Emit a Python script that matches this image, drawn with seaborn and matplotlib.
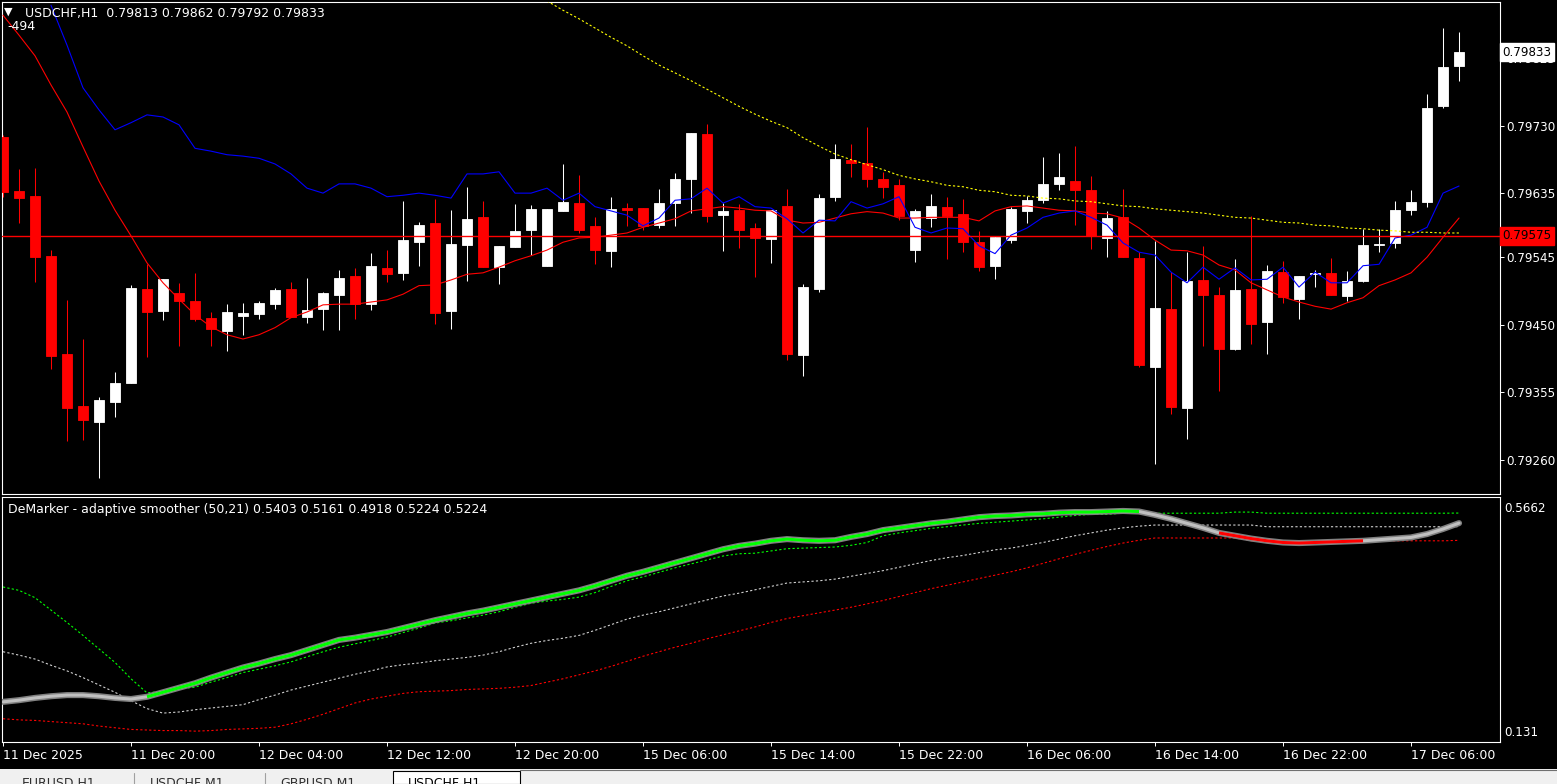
import numpy as np
import seaborn as sb
import matplotlib
matplotlib.use("Agg")
import matplotlib.pyplot as plt
import matplotlib.transforms as mtransforms
from matplotlib.patches import Rectangle
from matplotlib.lines import Line2D

# Podaci sa grafika (USDCHF, H1)

opens = [
    0.79714, 0.79638, 0.79631, 0.79547, 0.79409, 0.79336, 0.79313, 0.79342, 0.79368, 0.79500,
    0.79469, 0.79495, 0.79483, 0.79460, 0.79441, 0.79462, 0.79465, 0.79479, 0.79500, 0.79461,
    0.79472, 0.79492, 0.79519, 0.79479, 0.79530, 0.79523, 0.79566, 0.79593, 0.79469, 0.79562,
    0.79601, 0.79531, 0.79559, 0.79583, 0.79533, 0.79610, 0.79621, 0.79589, 0.79554, 0.79614,
    0.79614, 0.79590, 0.79621, 0.79655, 0.79718, 0.79604, 0.79611, 0.79586, 0.79571, 0.79617,
    0.79408, 0.79500, 0.79630, 0.79682, 0.79677, 0.79655, 0.79646, 0.79555, 0.79600, 0.79616,
    0.79606, 0.79566, 0.79533, 0.79569, 0.79610, 0.79625, 0.79648, 0.79652, 0.79639, 0.79572,
    0.79601, 0.79544, 0.79391, 0.79472, 0.79333, 0.79513, 0.79492, 0.79416, 0.79500, 0.79454,
    0.79524, 0.79486, 0.79521, 0.79523, 0.79490, 0.79512, 0.79562, 0.79565, 0.79611, 0.79623,
    0.79757, 0.79813]
highs = [
    0.79717, 0.79669, 0.79670, 0.79555, 0.79485, 0.79430, 0.79349, 0.79384, 0.79506, 0.79535,
    0.79514, 0.79509, 0.79523, 0.79468, 0.79479, 0.79481, 0.79483, 0.79502, 0.79510, 0.79516,
    0.79496, 0.79527, 0.79530, 0.79551, 0.79555, 0.79624, 0.79594, 0.79627, 0.79611, 0.79644,
    0.79624, 0.79561, 0.79620, 0.79618, 0.79613, 0.79676, 0.79660, 0.79601, 0.79630, 0.79621,
    0.79614, 0.79641, 0.79663, 0.79720, 0.79732, 0.79621, 0.79620, 0.79593, 0.79611, 0.79641,
    0.79507, 0.79634, 0.79704, 0.79704, 0.79728, 0.79665, 0.79655, 0.79613, 0.79634, 0.79630,
    0.79627, 0.79582, 0.79575, 0.79616, 0.79631, 0.79686, 0.79691, 0.79701, 0.79659, 0.79610,
    0.79641, 0.79552, 0.79568, 0.79524, 0.79552, 0.79561, 0.79503, 0.79542, 0.79603, 0.79534,
    0.79540, 0.79519, 0.79527, 0.79544, 0.79526, 0.79585, 0.79585, 0.79624, 0.79639, 0.79774,
    0.79867, 0.79862]
lows = [
    0.79630, 0.79593, 0.79510, 0.79388, 0.79287, 0.79288, 0.79235, 0.79320, 0.79368, 0.79405,
    0.79457, 0.79420, 0.79455, 0.79420, 0.79413, 0.79436, 0.79458, 0.79472, 0.79461, 0.79453,
    0.79443, 0.79443, 0.79458, 0.79471, 0.79510, 0.79513, 0.79533, 0.79451, 0.79444, 0.79512,
    0.79531, 0.79507, 0.79559, 0.79548, 0.79533, 0.79610, 0.79579, 0.79535, 0.79531, 0.79589,
    0.79583, 0.79586, 0.79589, 0.79607, 0.79594, 0.79554, 0.79558, 0.79517, 0.79537, 0.79401,
    0.79378, 0.79496, 0.79624, 0.79658, 0.79644, 0.79628, 0.79597, 0.79538, 0.79587, 0.79542,
    0.79552, 0.79526, 0.79514, 0.79565, 0.79593, 0.79621, 0.79639, 0.79590, 0.79557, 0.79545,
    0.79545, 0.79391, 0.79254, 0.79325, 0.79290, 0.79420, 0.79357, 0.79415, 0.79423, 0.79409,
    0.79481, 0.79458, 0.79503, 0.79492, 0.79483, 0.79510, 0.79552, 0.79558, 0.79604, 0.79616,
    0.79755, 0.79792]
closes = [
    0.79637, 0.79628, 0.79545, 0.79406, 0.79333, 0.79316, 0.79344, 0.79368, 0.79502, 0.79468,
    0.79514, 0.79483, 0.79458, 0.79444, 0.79468, 0.79467, 0.79481, 0.79499, 0.79461, 0.79471,
    0.79495, 0.79516, 0.79479, 0.79533, 0.79521, 0.79569, 0.79590, 0.79467, 0.79564, 0.79599,
    0.79531, 0.79561, 0.79582, 0.79613, 0.79613, 0.79623, 0.79583, 0.79555, 0.79613, 0.79611,
    0.79589, 0.79621, 0.79655, 0.79720, 0.79603, 0.79610, 0.79583, 0.79572, 0.79611, 0.79409,
    0.79503, 0.79628, 0.79683, 0.79677, 0.79655, 0.79644, 0.79603, 0.79610, 0.79617, 0.79603,
    0.79566, 0.79531, 0.79573, 0.79613, 0.79625, 0.79648, 0.79658, 0.79639, 0.79575, 0.79600,
    0.79545, 0.79394, 0.79474, 0.79334, 0.79512, 0.79492, 0.79416, 0.79499, 0.79451, 0.79526,
    0.79489, 0.79519, 0.79523, 0.79492, 0.79512, 0.79562, 0.79564, 0.79611, 0.79623, 0.79755,
    0.79812, 0.79833]

# Pokretni proseci (crveni od prve svece, plavi od 4., zuti od 35.)
ma_red = [
    0.79885, 0.79857, 0.79828, 0.79787, 0.79749, 0.79700, 0.79652, 0.79611, 0.79575, 0.79537,
    0.79509, 0.79486, 0.79464, 0.79447, 0.79436, 0.79430, 0.79436, 0.79446, 0.79460, 0.79468,
    0.79478, 0.79479, 0.79479, 0.79482, 0.79485, 0.79493, 0.79505, 0.79506, 0.79513, 0.79521,
    0.79523, 0.79531, 0.79540, 0.79547, 0.79555, 0.79566, 0.79572, 0.79573, 0.79576, 0.79579,
    0.79587, 0.79593, 0.79599, 0.79610, 0.79613, 0.79616, 0.79614, 0.79611, 0.79610, 0.79597,
    0.79593, 0.79594, 0.79600, 0.79606, 0.79609, 0.79607, 0.79600, 0.79600, 0.79601, 0.79601,
    0.79601, 0.79596, 0.79610, 0.79616, 0.79617, 0.79614, 0.79611, 0.79610, 0.79607, 0.79606,
    0.79600, 0.79586, 0.79569, 0.79555, 0.79554, 0.79548, 0.79534, 0.79527, 0.79509, 0.79499,
    0.79489, 0.79482, 0.79476, 0.79472, 0.79481, 0.79488, 0.79505, 0.79513, 0.79523, 0.79545,
    0.79573, 0.79600]
blue_start = 3
ma_blue = [
    0.79899, 0.79843, 0.79783, 0.79752, 0.79724, 0.79734, 0.79745, 0.79742, 0.79731,
    0.79698, 0.79694, 0.79689, 0.79687, 0.79684, 0.79676, 0.79662, 0.79642,
    0.79635, 0.79648, 0.79648, 0.79642, 0.79630, 0.79632, 0.79635, 0.79632, 0.79628, 0.79662,
    0.79662, 0.79665, 0.79635, 0.79635, 0.79642, 0.79625, 0.79635, 0.79616, 0.79610, 0.79604,
    0.79589, 0.79600, 0.79625, 0.79627, 0.79642, 0.79621, 0.79630, 0.79616, 0.79614, 0.79599,
    0.79579, 0.79597, 0.79596, 0.79623, 0.79614, 0.79620, 0.79630, 0.79587, 0.79579, 0.79586,
    0.79585, 0.79561, 0.79550, 0.79576, 0.79586, 0.79601, 0.79607, 0.79610, 0.79601, 0.79590,
    0.79565, 0.79552, 0.79548, 0.79524, 0.79509, 0.79531, 0.79514, 0.79530, 0.79513, 0.79514,
    0.79531, 0.79503, 0.79524, 0.79509, 0.79509, 0.79533, 0.79535, 0.79572, 0.79576, 0.79587,
    0.79635, 0.79645]
yellow_start = 34
ma_yellow = [
    0.79905, 0.79892, 0.79880, 0.79867, 0.79854, 0.79842, 0.79828, 0.79815, 0.79804, 0.79793,
    0.79781, 0.79769, 0.79757, 0.79746, 0.79736, 0.79727, 0.79713, 0.79701, 0.79690, 0.79682,
    0.79675, 0.79668, 0.79660, 0.79655, 0.79651, 0.79646, 0.79644, 0.79639, 0.79637, 0.79632,
    0.79631, 0.79628, 0.79627, 0.79624, 0.79623, 0.79620, 0.79617, 0.79616, 0.79613, 0.79611,
    0.79609, 0.79607, 0.79604, 0.79601, 0.79600, 0.79597, 0.79594, 0.79593, 0.79590, 0.79589,
    0.79586, 0.79585, 0.79583, 0.79582, 0.79580, 0.79580, 0.79579, 0.79579]
hline_price = 0.79575

# DeMarker - adaptive smoother
dem_main = [
    0.205, 0.208, 0.212, 0.215, 0.217, 0.217, 0.215, 0.212, 0.210, 0.214,
    0.222, 0.230, 0.238, 0.248, 0.257, 0.266, 0.273, 0.281, 0.288, 0.297,
    0.306, 0.315, 0.319, 0.324, 0.329, 0.336, 0.343, 0.350, 0.356, 0.362,
    0.367, 0.373, 0.379, 0.385, 0.391, 0.397, 0.403, 0.411, 0.420, 0.429,
    0.436, 0.444, 0.452, 0.460, 0.468, 0.476, 0.482, 0.486, 0.491, 0.494,
    0.492, 0.491, 0.492, 0.498, 0.503, 0.510, 0.514, 0.518, 0.522, 0.525,
    0.529, 0.533, 0.535, 0.536, 0.538, 0.539, 0.541, 0.542, 0.542, 0.543,
    0.544, 0.543, 0.537, 0.530, 0.522, 0.514, 0.505, 0.500, 0.495, 0.491,
    0.488, 0.487, 0.488, 0.489, 0.490, 0.491, 0.493, 0.495, 0.497, 0.503,
    0.512, 0.5224]
dem_upper = [
    0.409, 0.403, 0.390, 0.368, 0.346, 0.323, 0.299, 0.275, 0.246, 0.221,
    0.224, 0.228, 0.231, 0.240, 0.248, 0.257, 0.263, 0.269, 0.276, 0.285,
    0.294, 0.302, 0.308, 0.314, 0.320, 0.328, 0.336, 0.345, 0.349, 0.354,
    0.359, 0.365, 0.373, 0.380, 0.384, 0.387, 0.391, 0.399, 0.410, 0.420,
    0.427, 0.435, 0.443, 0.450, 0.457, 0.464, 0.468, 0.469, 0.473, 0.477,
    0.478, 0.479, 0.480, 0.483, 0.488, 0.500, 0.505, 0.509, 0.513, 0.516,
    0.519, 0.522, 0.524, 0.526, 0.528, 0.530, 0.533, 0.536, 0.538, 0.538,
    0.540, 0.540, 0.540, 0.540, 0.540, 0.540, 0.540, 0.542, 0.542, 0.540,
    0.540, 0.540, 0.540, 0.540, 0.540, 0.540, 0.540, 0.540, 0.540, 0.540,
    0.540, 0.5403]
dem_mid = [
    0.294, 0.288, 0.281, 0.270, 0.260, 0.248, 0.235, 0.222, 0.207, 0.193,
    0.185, 0.187, 0.191, 0.194, 0.197, 0.200, 0.209, 0.217, 0.226, 0.233,
    0.240, 0.247, 0.254, 0.260, 0.267, 0.271, 0.274, 0.278, 0.281, 0.284,
    0.288, 0.294, 0.302, 0.309, 0.314, 0.318, 0.323, 0.332, 0.342, 0.352,
    0.359, 0.365, 0.372, 0.379, 0.386, 0.393, 0.398, 0.404, 0.410, 0.416,
    0.418, 0.420, 0.423, 0.428, 0.433, 0.438, 0.444, 0.450, 0.456, 0.461,
    0.465, 0.470, 0.475, 0.478, 0.483, 0.488, 0.494, 0.500, 0.505, 0.510,
    0.514, 0.517, 0.519, 0.519, 0.519, 0.519, 0.519, 0.519, 0.519, 0.516,
    0.516, 0.516, 0.516, 0.516, 0.516, 0.516, 0.516, 0.516, 0.516, 0.516,
    0.516, 0.5161]
dem_lower = [
    0.175, 0.173, 0.172, 0.170, 0.168, 0.166, 0.162, 0.159, 0.156, 0.155,
    0.154, 0.154, 0.153, 0.154, 0.156, 0.157, 0.158, 0.160, 0.166, 0.174,
    0.183, 0.193, 0.203, 0.210, 0.215, 0.220, 0.223, 0.224, 0.225, 0.227,
    0.228, 0.229, 0.231, 0.234, 0.240, 0.246, 0.253, 0.260, 0.268, 0.277,
    0.286, 0.294, 0.302, 0.309, 0.317, 0.324, 0.331, 0.338, 0.346, 0.353,
    0.358, 0.363, 0.368, 0.373, 0.379, 0.385, 0.392, 0.399, 0.406, 0.412,
    0.418, 0.424, 0.430, 0.436, 0.443, 0.451, 0.459, 0.467, 0.474, 0.481,
    0.487, 0.492, 0.496, 0.496, 0.496, 0.496, 0.496, 0.496, 0.491, 0.491,
    0.491, 0.491, 0.491, 0.491, 0.491, 0.491, 0.491, 0.491, 0.491, 0.491,
    0.491, 0.4918]
# boja glavne linije po svecama: 1 zelena, -1 crvena, 0 siva
dem_state = [0] * 9 + [1] * 63 + [0] * 4 + [-1] * 10 + [0] * 6

price_ticks = [0.79260, 0.79355, 0.79450, 0.79545, 0.79635, 0.79730, 0.79825]
time_labels = ["11 Dec 2025", "11 Dec 20:00", "12 Dec 04:00", "12 Dec 12:00",
               "12 Dec 20:00", "15 Dec 06:00", "15 Dec 14:00", "15 Dec 22:00",
               "16 Dec 06:00", "16 Dec 14:00", "16 Dec 22:00", "17 Dec 06:00"]
tab_names = ["EURUSD,H1", "USDCHF,M1", "GBPUSD,M1", "USDCHF,H1"]
header = "USDCHF,H1  0.79813 0.79862 0.79792 0.79833"
ind_title = "DeMarker - adaptive smoother (50,21) 0.5403 0.5161 0.4918 0.5224 0.5224"

# Izgled

sb.set_style("dark", {"axes.facecolor": "black", "figure.facecolor": "black"})
plt.rcParams['font.family'] = ['DejaVu Sans']
FS = 9
FS_PRICE = 8.6

W, H = 1557, 784
fig = plt.figure(figsize = (W / 100, H / 100), dpi = 100)
fig.patch.set_facecolor("black")

def fx(px):
    return px / W

def fy(py):
    return 1 - py / H

ax = fig.add_axes([fx(2), fy(494), (1500 - 2) / W, (494 - 2) / H])
ax_ind = fig.add_axes([fx(2), fy(742), (1500 - 2) / W, (742 - 497) / H])

for a in (ax, ax_ind):
    a.set_facecolor("black")
    a.grid(False)
    for s in a.spines.values():
        s.set_color("white")
        s.set_linewidth(0.8)

n = len(closes)
idx = np.arange(n)
o = np.array(opens)
c = np.array(closes)
colors = np.where(c >= o, "white", "red")
body_lo = np.minimum(o, c)
body_hi = np.maximum(o, c)

# Svece

ax.vlines(idx, lows, highs, colors = colors, linewidth = 0.75, zorder = 2)
ax.bar(idx, body_hi - body_lo, bottom = body_lo, width = 0.66, color = colors,
       edgecolor = colors, linewidth = 0.6, zorder = 3)

# Pokretni proseci

sb.lineplot(x = idx, y = ma_red, ax = ax, color = "red", linewidth = 0.8,
            estimator = None, sort = False, legend = False, zorder = 4)
sb.lineplot(x = idx[blue_start:], y = ma_blue, ax = ax, color = "#0000ff", linewidth = 0.8,
            estimator = None, sort = False, legend = False, zorder = 4)
sb.lineplot(x = idx[yellow_start:], y = ma_yellow, ax = ax, color = "yellow", linewidth = 0.8,
            linestyle = (0, (2, 2)), estimator = None, sort = False, legend = False, zorder = 4)
ax.axhline(hline_price, color = "red", linewidth = 1.0, zorder = 5)

ax.set_xlim(-0.0625, 93.56)
ax.set_ylim(0.792122, 0.799036)
ax.set_xticks([])
ax.yaxis.tick_right()
ax.set_yticks(price_ticks)
ax.set_yticklabels([f"{p:.5f}" for p in price_ticks])
ax.tick_params(axis = "y", colors = "white", labelsize = FS_PRICE, length = 3, width = 0.7, pad = 1.5,
               direction = "out", right = True, left = False)
ax.set_xlabel("")
ax.set_ylabel("")

trans = mtransforms.blended_transform_factory(ax.transAxes, ax.transData)
ax.text(1.0015, closes[-1], f"{closes[-1]:.5f}", transform = trans, ha = "left", va = "center",
        color = "black", fontsize = FS_PRICE, clip_on = False, zorder = 10,
        bbox = dict(boxstyle = "square,pad=0.2", fc = "white", ec = "white"))
ax.text(1.0015, hline_price, f"{hline_price:.5f}", transform = trans, ha = "left", va = "center",
        color = "black", fontsize = FS_PRICE, clip_on = False, zorder = 10,
        bbox = dict(boxstyle = "square,pad=0.2", fc = "red", ec = "red"))

# DeMarker panel

for vals, col in ((dem_upper, "#00ff00"), (dem_mid, "#d0d0d0"), (dem_lower, "red")):
    sb.lineplot(x = idx, y = vals, ax = ax_ind, color = col, linewidth = 0.8,
                linestyle = (0, (2, 2)), estimator = None, sort = False, legend = False, zorder = 2)

sb.lineplot(x = idx, y = dem_main, ax = ax_ind, color = "#808080", linewidth = 4.4,
            solid_capstyle = "round", solid_joinstyle = "round",
            estimator = None, sort = False, legend = False, zorder = 3)
sb.lineplot(x = idx, y = dem_main, ax = ax_ind, color = "#c0c0c0", linewidth = 2.2,
            solid_capstyle = "round", estimator = None, sort = False, legend = False, zorder = 4)

state = np.array(dem_state)
main = np.array(dem_main)
for st, col in ((1, "#00ff00"), (-1, "red")):
    mask = state == st
    edges = np.flatnonzero(np.diff(np.concatenate(([0], mask.astype(int), [0]))))
    for s, e in zip(edges[::2], edges[1::2]):
        sb.lineplot(x = idx[s:e], y = main[s:e], ax = ax_ind, color = col, linewidth = 2.2,
                    solid_capstyle = "butt", estimator = None, sort = False, legend = False, zorder = 5)

ax_ind.set_xlim(-0.0625, 93.56)
ax_ind.set_ylim(0.1337, 0.5688)
ax_ind.set_yticks([])
ax_ind.set_xticks(np.arange(0, n, 8))
ax_ind.set_xticklabels(time_labels)
for lab in ax_ind.get_xticklabels():
    lab.set_ha("left")
ax_ind.tick_params(axis = "x", colors = "white", labelsize = FS, length = 3, width = 0.7,
                   pad = 2, direction = "out", bottom = True)
ax_ind.set_xlabel("")
ax_ind.set_ylabel("")
ax_ind.text(1.003, (742 - 508) / 245, "0.5662", transform = ax_ind.transAxes, color = "white",
            fontsize = FS_PRICE, va = "center", ha = "left", clip_on = False)
ax_ind.text(1.003, (742 - 733) / 245, "0.131", transform = ax_ind.transAxes, color = "white",
            fontsize = FS_PRICE, va = "center", ha = "left", clip_on = False)

# Natpisi

fig.text(fx(4), fy(12), "\u25bc", color = "white", fontsize = 8, va = "center", ha = "left")
fig.text(fx(25), fy(13), header, color = "white", fontsize = FS, va = "center", ha = "left")
fig.text(fx(7), fy(27), "-494", color = "white", fontsize = FS, va = "center", ha = "left")
fig.text(fx(8), fy(509), ind_title, color = "white", fontsize = FS, va = "center", ha = "left")

# Traka sa karticama na dnu

fig.patches.append(Rectangle((0, 0), 1, 15 / H, transform = fig.transFigure,
                             facecolor = "#f0f0f0", edgecolor = "none", zorder = 0))
fig.patches.append(Rectangle((fx(393), 0), (520 - 393) / W, 13 / H, transform = fig.transFigure,
                             facecolor = "white", edgecolor = "black", linewidth = 0.8, zorder = 1))
fig.lines.append(Line2D([fx(520), 1], [fy(770), fy(770)], transform = fig.transFigure,
                        color = "#707070", linewidth = 0.8))
for sx in (134, 265):
    fig.lines.append(Line2D([fx(sx), fx(sx)], [0, fy(773)], transform = fig.transFigure,
                            color = "#a0a0a0", linewidth = 0.8))
for tx, name in zip((22, 150, 280, 408), tab_names):
    fig.text(fx(tx), fy(777), name, color = "#303030" if name != tab_names[-1] else "black",
             fontsize = 9, va = "top", ha = "left")

fig.savefig("out.png", dpi = 100, facecolor = "black")
